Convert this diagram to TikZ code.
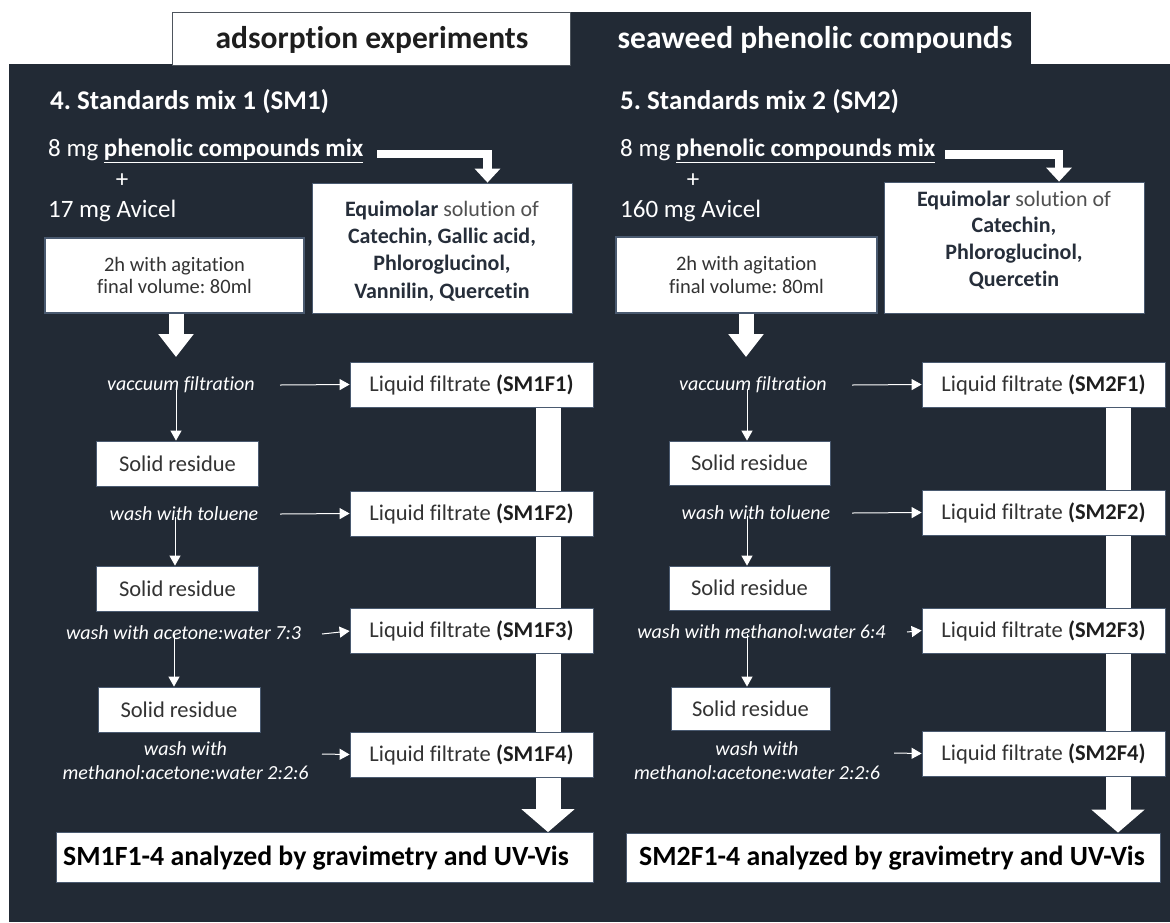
\documentclass[tikz,border=0pt]{standalone}
\usepackage{fontspec}
\setmainfont{Carlito}[Ligatures=NoCommon]
\usetikzlibrary{arrows.meta,backgrounds}
\frenchspacing
\definecolor{bg}{HTML}{222A35}
\definecolor{txt}{HTML}{333333}
\definecolor{btxt}{HTML}{1E1E1E}
\definecolor{eqbold}{HTML}{262E3A}
\definecolor{eqreg}{HTML}{505050}
\definecolor{edge}{HTML}{4A5A70}
\tikzset{
  boxbase/.style={fill=white, draw=edge, line width=0.8pt, inner sep=0, text=txt},
  liq/.style={boxbase, minimum width=243, minimum height=45, font=\fontsize{22.5}{26}\selectfont},
  solid/.style={boxbase, minimum width=162, minimum height=45, font=\fontsize{22.5}{26}\selectfont},
  lab/.style={text=white, align=center, inner sep=0, font=\itshape\fontsize{20}{24}\selectfont},
  wtxt/.style={text=white, anchor=west, inner sep=0, font=\fontsize{25}{29}\selectfont},
  head/.style={text=white, anchor=west, inner sep=0, font=\bfseries\fontsize{27}{31}\selectfont},
  equi/.style={boxbase, minimum width=260, text=eqreg},
  eqtxt/.style={align=center, inner sep=0, text=eqreg, font=\fontsize{22}{27.3}\selectfont},
  aglbox/.style={boxbase, line width=1.2pt, align=center, font=\fontsize{20.5}{22.5}\selectfont},
  thinarr/.style={draw=white, line width=1pt, -{Triangle[length=10,width=11]}},
  bentarr/.style={draw=white, line width=8.5, -{Triangle[length=14,width=25]}},
  midarr/.style={draw=white, line width=15, -{Triangle[length=23,width=34]}},
  bigarr/.style={draw=white, line width=25, -{Triangle[length=23,width=52]}},
  final/.style={boxbase, minimum height=50},
  fintxt/.style={inner sep=0, text=black, font=\bfseries\fontsize{27.8}{32}\selectfont},
  tabtxt/.style={inner sep=0, font=\bfseries\fontsize{31.5}{36}\selectfont},
}
\newcommand{\eb}[1]{\textcolor{eqbold}{\textbf{#1}}}
\newcommand{\fb}[1]{\textcolor{btxt}{\textbf{#1}}}
\begin{document}
\begin{tikzpicture}[x=1pt,y=-1pt]
\useasboundingbox (0,0) rectangle (1170,922);
\begin{scope}[on background layer]
\fill[white] (0,0) rectangle (1170,922);
\fill[bg] (9,64) rectangle (1170,922);
\fill[bg] (570,12) rectangle (1031,65);
\end{scope}
\node[draw=bg!80, line width=1pt, fill=white, minimum width=398, minimum height=53, anchor=north west, inner sep=0] (tab1) at (172,12) {};
\node[tabtxt, text=btxt] (tab1t) at (372,40) {adsorption experiments};
\node[tabtxt, text=white] (tab2t) at (815,40) {seaweed phenolic compounds};

% ---------- left panel ----------
\node[head] (h1) at (50,102) {4. Standards mix 1 (SM1)};
\node[wtxt] (mixL) at (48,151) {8 mg \textbf{\underline{phenolic compounds mix}}};
\node[wtxt, anchor=center] (plusL) at (122,181) {+};
\node[wtxt] (avL) at (48,211) {17 mg Avicel};
\node[equi, minimum height=130] (eqL) at (442,248) {};
\node[eqtxt] (eqLt) at (442,251) {\eb{Equimolar} solution of\\ \eb{Catechin, Gallic acid,}\\ \eb{Phloroglucinol,}\\ \eb{Vannilin, Quercetin}};
\coordinate (cornL) at (487.5,154);
\coordinate (mixLend) at (377,154);
\draw[bentarr] (mixLend) -- (cornL) -- (eqL.north -| cornL);
\node[aglbox, minimum width=259, minimum height=75] (agL) at (174.5,275.5) {2h with agitation\\ final volume: 80ml};
\coordinate (agLtip) at (176,357);
\draw[midarr] (agL.south -| agLtip) -- (agLtip);
\node[lab] (vacL) at (181,385) {vaccuum filtration};
\node[liq] (F1L) at (471.5,384.5) {Liquid filtrate \fb{(SM1F1)}};
\node[solid] (S1L) at (177.5,463.5) {Solid residue};
\node[lab] (tolL) at (184,514) {wash with toluene};
\node[liq] (F2L) at (471.5,513.5) {Liquid filtrate \fb{(SM1F2)}};
\node[solid] (S2L) at (177.5,588.5) {Solid residue};
\node[lab] (aceL) at (183.5,633) {wash with acetone:water 7:3};
\node[liq] (F3L) at (471.5,631) {Liquid filtrate \fb{(SM1F3)}};
\node[solid] (S3L) at (179,709.5) {Solid residue};
\node[lab] (metL) at (185.5,761) {wash with\\ methanol:acetone:water 2:2:6};
\node[liq] (F4L) at (471.5,754.5) {Liquid filtrate \fb{(SM1F4)}};
\node[final, minimum width=537] (finL) at (324.5,857.5) {};
\node[fintxt] (finLt) at (316,858) {SM1F1-4 analyzed by gravimetry and UV-Vis};
\coordinate (a1L) at (280,385);
\coordinate (a2L) at (280,514);
\coordinate (a3L) at (322,634);
\coordinate (a4L) at (322,754);
\draw[thinarr] (a1L) -- (F1L.west);
\draw[thinarr] (a2L) -- (F2L.west);
\draw[thinarr] (a3L) -- (F3L.west);
\draw[thinarr] (a4L) -- (F4L.west);
\draw[thinarr] ([yshift=4]vacL.south -| 176,0) -- (S1L.north -| 176,0);
\draw[thinarr] ([yshift=4]tolL.south -| 175,0) -- (S2L.north -| 175,0);
\draw[thinarr] ([yshift=5]aceL.south -| 174,0) -- (S3L.north -| 174,0);

% ---------- right panel ----------
\node[head] (h2) at (620,102) {5. Standards mix 2 (SM2)};
\node[wtxt] (mixR) at (620,151) {8 mg \textbf{\underline{phenolic compounds mix}}};
\node[wtxt, anchor=center] (plusR) at (693,181) {+};
\node[wtxt] (avR) at (620,211) {160 mg Avicel};
\node[equi, minimum height=131] (eqR) at (1014,247.5) {};
\node[eqtxt, font=\fontsize{22}{26.7}\selectfont] (eqRt) at (1014,240) {\eb{Equimolar} solution of\\ \eb{Catechin,}\\ \eb{Phloroglucinol,}\\ \eb{Quercetin}};
\coordinate (cornR) at (1059,154.5);
\coordinate (mixRend) at (945,154.5);
\draw[bentarr] (mixRend) -- (cornR) -- (eqR.north -| cornR);
\node[aglbox, minimum width=261, minimum height=76] (agR) at (746.5,275) {2h with agitation\\ final volume: 80ml};
\coordinate (agRtip) at (746,357);
\draw[midarr] (agR.south -| agRtip) -- (agRtip);
\node[lab] (vacR) at (753,385) {vaccuum filtration};
\node[liq] (F1R) at (1043.5,384.5) {Liquid filtrate \fb{(SM2F1)}};
\node[solid, minimum width=161, minimum height=44] (S1R) at (749.5,463) {Solid residue};
\node[lab] (tolR) at (756,513) {wash with toluene};
\node[liq] (F2R) at (1043.5,512.5) {Liquid filtrate \fb{(SM2F2)}};
\node[solid, minimum width=161, minimum height=44] (S2R) at (749.5,588) {Solid residue};
\node[lab] (metwR) at (761.5,632) {wash with methanol:water 6:4};
\node[liq] (F3R) at (1043.5,630.5) {Liquid filtrate \fb{(SM2F3)}};
\node[solid, minimum width=159, minimum height=43] (S3R) at (750.5,708.5) {Solid residue};
\node[lab] (metR) at (757,761) {wash with\\ methanol:acetone:water 2:2:6};
\node[liq] (F4R) at (1043.5,753.5) {Liquid filtrate \fb{(SM2F4)}};
\node[final, minimum width=534, minimum height=49] (finR) at (893,857.5) {};
\node[fintxt] (finRt) at (892,858) {SM2F1-4 analyzed by gravimetry and UV-Vis};
\coordinate (a1R) at (852,385);
\coordinate (a2R) at (852,513);
\coordinate (a3R) at (907,632);
\coordinate (a4R) at (894,753);
\draw[thinarr] (a1R) -- (F1R.west);
\draw[thinarr] (a2R) -- (F2R.west);
\draw[thinarr] (a3R) -- (F3R.west);
\draw[thinarr] (a4R) -- (F4R.west);
\draw[thinarr] ([yshift=4]vacR.south -| 747,0) -- (S1R.north -| 747,0);
\draw[thinarr] ([yshift=4]tolR.south -| 747,0) -- (S2R.north -| 747,0);
\draw[thinarr] ([yshift=5]metwR.south -| 747,0) -- (S3R.north -| 747,0);

% ---------- thick collecting arrows (behind boxes) ----------
\begin{scope}[on background layer]
\draw[bigarr] (F1L.south -| 548,0) -- (finL.north -| 548,0);
\draw[bigarr] (F1R.south -| 1118,0) -- (finR.north -| 1118,0);
\end{scope}
\end{tikzpicture}
\end{document}
